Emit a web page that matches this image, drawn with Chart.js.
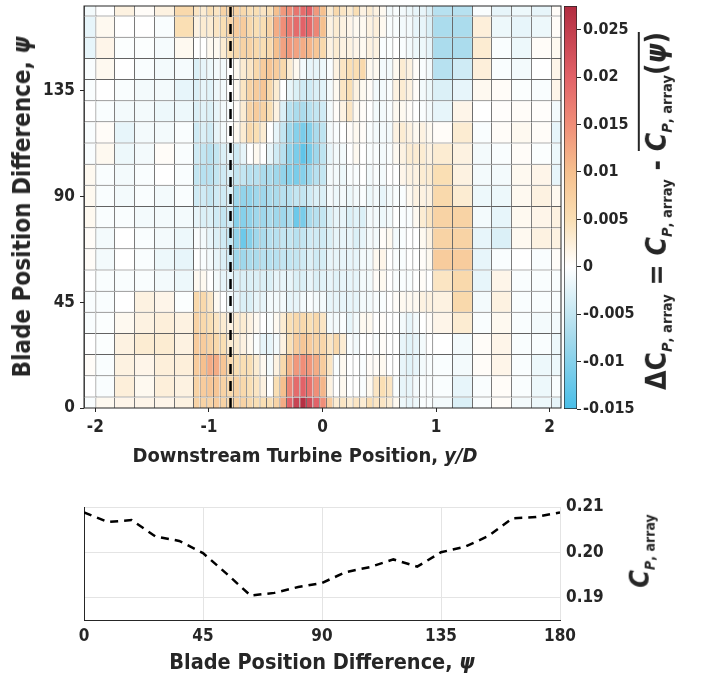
<!DOCTYPE html>
<html>
<head>
<meta charset="utf-8">
<script src="https://cdn.jsdelivr.net/npm/chart.js@4.4.1/dist/chart.umd.min.js"></script>
<style>
  body { margin: 0; background: #fff; }
  #wrap { position: relative; width: 703px; height: 680px; overflow: hidden;
          font-family: 'DejaVu Sans Condensed', 'DejaVu Sans', sans-serif; font-weight: bold; color: #262626; }
  canvas { position: absolute; left: 0; top: 0; }
  .lbl { position: absolute; white-space: nowrap; transform: translate(-50%, -50%); line-height: 1; }
  .rot { transform: translate(-50%, -50%) rotate(-90deg); }
  sub { font-size: 0.52em; vertical-align: -0.4em; font-style: normal; }
  .ovl { display: inline-block; border-top: 2.5px solid #262626; padding-top: 3px; }
</style>
</head>
<body>
<div id="wrap">
  <canvas id="heat" width="703" height="680"></canvas>
  <canvas id="cbar" width="703" height="680"></canvas>
  <canvas id="mean" width="703" height="680"></canvas>

  <div class="lbl rot" style="left:22px; top:207px; font-size:24px;">Blade Position Difference, <i>ψ</i></div>
  <div class="lbl" style="left:305px; top:455px; font-size:20px;">Downstream Turbine Position, <i>y/D</i></div>
  <div class="lbl rot" style="left:656px; top:211px; font-size:28px;">ΔC<sub><i>P</i>, array</sub> = <i>C</i><sub><i>P</i>, array</sub> - <span class="ovl"><i>C</i><sub><i>P</i>, array</sub>(<i>ψ</i>)</span></div>
  <div class="lbl" style="left:322px; top:662px; font-size:21.5px;">Blade Position Difference, <i>ψ</i></div>
  <div class="lbl rot" style="left:641px; top:551px; font-size:27px;"><i>C</i><sub><i>P</i>, array</sub></div>
</div>

<script>
// blade position difference of each heat-map row (deg)
const psi = [0, 9, 18, 27, 36, 45, 54, 63, 72, 81, 90, 99, 108, 117, 126, 135, 144, 153, 162, 171];

// column edges of the heat map, downstream turbine position y/D
const xEdges = [
  -2.1, -2.0, -1.835, -1.659, -1.483, -1.307, -1.14,
  -1.082, -1.023, -0.965, -0.906, -0.848, -0.789, -0.731, -0.672, -0.614, -0.555,
  -0.497, -0.438, -0.380, -0.321, -0.263, -0.204, -0.146, -0.087, -0.029, 0.030,
  0.089, 0.147, 0.206, 0.264, 0.323, 0.381, 0.440, 0.498, 0.557, 0.615,
  0.674, 0.732, 0.791, 0.849, 0.908, 0.966,
  1.140, 1.316, 1.483, 1.659, 1.835, 2.011, 2.1
];

// delta C_P,array (x 1e-3), one row per psi, one value per column
const dCp = [
  [-0.5,1,1.5,1.5,1.5,2, 7,7,7,8,7,6,7,7,6,5,5,5,7,12,20,24,27,23,20,15, 8,3,4,3,4,3,5,4,4,3,1,-1.5,-2,-1.5,-0.5,-0.5, -1,-3,-0.5,0.5,-1,-1.5,-2],
  [0,-0.5,2.5,1,2.5,2, 7,8,9,9,7,6,7,6,5,4,2,0,5,10,16,19,20,18,15,11, 2,0,1,0,0,-0.5,1,4,5,4,-0.5,-2,-2,-1,-0.5,-0.5, -0.5,-2,-0.5,0.5,-0.5,-1.5,-0.5],
  [0.5,-0.5,2,1.5,2.5,2.5, 8,10,12,12,9,6,5,5,5,3,1,-1,2,6,11,14,15,14,12,8, 4,-0.5,1,0,0,-0.5,0.5,0.5,1,0,0,-2,-2.5,-2,-1,-0.5, -0.5,-1,0.5,1.5,-0.5,-1.5,-1.5],
  [0,-0.3,2,3,3,2, 8,8,7,6,5,3,3,2,1,-0.5,-2,-2,-1,2,5,8,9,8,7,6.5, 4,6,3,-0.5,-1,0,0,-0.5,0.5,0,0,-2,-2.5,-2,-1,0, 0,-1,0.5,1.5,-0.5,-0.5,-1.5],
  [-0.5,-0.3,1,2,2.5,2, 7,6,5,4,3,2,3,3,2,1,0,-0.5,1,3,5,6,6,5,6,4, -1,-1,-0.5,-2,-1,1,1,0,0.5,0,0,-1,-2,-1,0,0.5, 1.5,3,-0.5,1,-0.5,-1,-1],
  [-0.5,-0.5,0,2,1.5,-0.3, 6,6,4,1,0,-1,-2,-3,-3,-2,-2,-1,-1,-1,-2,-2,-1,-0.5,-1,-1, -2,-2,-2,-2,-2,-1,-1,-0.5,-0.5,0,0.5,1,1,1,2,2, 2,6,-1,2,-0.5,-0.5,-0.5],
  [0,-0.5,-0.5,-0.5,-1,-1.5, 1,1,0,-1,-2,-2,-3,-3,-3,-3,-3,-3,-2,-2,-2,-3,-3,-2,-3,-2.5, -2,-2.5,-2,-2,-2,-1,-1,0.5,1,0,-0.5,-0.5,-0.5,0,0.5,0, 4,6,-2,1.5,-0.5,-0.5,-0.5],
  [0.5,-1,0,-0.5,-1.5,-2, 0,-0.5,-1,-2,-3,-4,-8,-8,-7,-7,-6,-6,-6,-5,-5,-5,-4,-3,-4,-3.5, -2,-2,-2,-2,-2,-1,-1,1,1.5,0,-0.5,-0.5,0,0,0.5,1, 8,8,-2,-0.5,0,-0.5,0.5],
  [0.5,-1,0,-0.5,-1,-1.5, -0.5,-1,-2,-3,-4,-5,-9,-12,-10,-8,-7,-6,-6,-5,-5,-6,-5,-4,-4,-4, -3,-2,-2,-2,-3,-2,-1,-1,0.5,1,-1,-0.5,0,0,1,2, 7,7,-2,-3,1,2,2],
  [1,-0.5,-0.5,-1,-1,-1, -2,-3,-3,-4,-5,-4,-10,-10,-9,-8,-8,-7,-8,-8,-7,-12,-11,-7,-6,-5, -3,-2,-2,-3,-2.5,-3,-1,-1,-1.5,-1,0,-0.5,-0.5,1,3,4, 7,7,-1,-2,1,1.5,2],
  [1,-0.5,-1,-0.5,-1,-0.5, -4,-4,-5,-4,-4,-3,-8,-9,-9,-8,-8,-7,-7,-6,-6,-5,-5,-4,-3,-3, -1,-1.5,-1,-1.5,-1,-0.5,-1.5,-1,-2,-1,-0.5,-0.5,1,2,2,2, 6,3,-1.5,-1.5,1,2,1],
  [1,-0.5,-1,-0.5,0,-0.5, -5,-6,-6,-5,-4,-3,-5,-5,-6,-6,-7,-7,-8,-9,-10,-11,-10,-8,-6,-5, -1,-1,-1.5,-0.5,-0.5,0,-1,-0.5,-1,0,0,1.5,2,2,3,3, 5,2,-1,-1,1,1.5,-2],
  [-0.5,1,-1.5,-1,0.5,-0.5, -4,-5,-6,-5,-3,-2,-4,-2,0,1,0,-2,-4,-6,-9,-11,-13,-11,-8,-5.5, -2,-1,-1,0,1,0,-0.5,-0.5,-1,-0.5,1,2,3,3,3,2, 3,2,-1,-0.5,0.5,-0.3,-1.5],
  [-0.5,0.5,-2,-1,-1,-0.5, -4,-3,-4,-2,-1,0,1,3,6,5,3,0,-2,-5,-8,-10,-11,-10,-7,-5.5, -1,-0.5,0,0.5,1,0.5,-0.5,-1,-1,-1,2,3,2,1,2,1, 0.5,3,-0.5,0.5,1,0.5,-2],
  [0,-0.5,-1,-1,-1.5,-1.5, -3,-2.5,-3,-2,-1,-0.5,0.5,3,7,8,7,5,2,-3,-6,-7,-7,-6,-5,-4, -1,0.5,2,4,1,0.5,0,-1,-1,-0.5,1,1,0.5,0,-0.5,-1, -2,1.5,0,0.3,0.5,0.3,-1],
  [-0.5,0,-0.5,-1,-1,-2, -3,-2,-2.5,-1.5,-1,0,1,4,7,8,9,6,3,0,-2,-3,-4,-4,-3,-2.5, -1,1,4,5,2,1,0.5,-1,-1,-0.5,2,3,2,0.5,-1,-1.5, -3,-2,1,0.5,-0.3,-0.5,1.5],
  [-0.5,1,0,-0.5,-1,-0.8, -3,-2,-1.5,-1,-1,0,1,3,4,6,8,9,8,6,3,1,-1,-2,-2,-1.5, -0.5,2,4,5,5,6,1,1,-1,-1,1,3,2,0.5,-0.5,-1, -6,-4,2.5,-0.5,-1,0,1.5],
  [-2,1.5,-0.3,-0.3,-0.8,1, 0,0,1,1,3,5,6,7,7,6,5,6,10,13,14,13,12,11,9,6, 2,3,2,2,1.5,1,2,2,-0.5,-0.3,0,-0.5,-1,-1.5,-1.5,-2, -7,-7,3,-0.5,-1.5,0.5,1],
  [-2,1,0,0,-0.5,5, 2,3,3,4,5,7,8,8,6,5,5,7,12,15,17,19,20,19,16,10, 2,3,2,1.5,1,1,2,2.5,1,-0.5,-0.5,-1,-1,-2,-2,-3, -7,-7,2.5,-1.5,-2,-1.5,0.5],
  [-1,0,2,0.5,2,6, 4,3,5,4,7,7,7,6,5,5,4,5,10,14,15,18,19,20,14,10, 3,6,4,3,5,2,3,2,1,-1,-0.5,-1,-1.5,-2,-2,-3, -6,-6,-0.5,-2,-1.5,-2,0.5]
];

// upstream turbine position (dashed line), y/D
const wakeY = -0.81;

// colour bar limits
const cbMin = -0.015;
const cbMax = 0.0275;

// array-averaged power coefficient vs blade position difference
const psiMean = [0, 9, 18, 27, 36, 45, 54, 63, 72, 81, 90, 99, 108, 117, 126, 135, 144, 153, 162, 171, 180];
const cpMean = [0.2088, 0.2067, 0.2071, 0.2035, 0.2025, 0.1998, 0.1952, 0.1904, 0.1910, 0.1923, 0.1932,
                0.1956, 0.1967, 0.1984, 0.1968, 0.2000, 0.2012, 0.2036, 0.2075, 0.2078, 0.2088];

// diverging colour map (value, rgb)
const cmapStops = [
  [-0.015, [72, 190, 232]],
  [-0.0075, [165, 218, 236]],
  [0, [255, 255, 255]],
  [0.005, [250, 223, 180]],
  [0.01, [246, 192, 142]],
  [0.015, [240, 142, 120]],
  [0.02, [226, 98, 104]],
  [0.0275, [178, 44, 64]]
];

function cmap(v) {
  const s = cmapStops;
  if (v <= s[0][0]) return `rgb(${s[0][1]})`;
  for (let i = 1; i < s.length; i++) {
    if (v <= s[i][0]) {
      const t = (v - s[i - 1][0]) / (s[i][0] - s[i - 1][0]);
      const c = s[i - 1][1].map((a, k) => Math.round(a + (s[i][1][k] - a) * t));
      return `rgb(${c})`;
    }
  }
  return `rgb(${s[s.length - 1][1]})`;
}

Chart.defaults.font.family = "'DejaVu Sans Condensed', 'DejaVu Sans', sans-serif";
Chart.defaults.color = '#262626';
const tickFont = { size: 17, weight: 'bold' };

// fixed axis sizes, no extra label padding so plot areas line up
const fixW = w => s => { s.width = w; s.paddingTop = 0; s.paddingBottom = 0; };
const fixH = h => s => { s.height = h; s.paddingLeft = 0; s.paddingRight = 0; };

const frame = {
  id: 'frame',
  afterDatasetsDraw(chart) {
    const { ctx, chartArea: a } = chart;
    ctx.save();
    ctx.strokeStyle = '#262626';
    ctx.lineWidth = 1;
    ctx.strokeRect(a.left, a.top, a.right - a.left, a.bottom - a.top);
    ctx.restore();
  }
};

const cellSets = xEdges.slice(0, -1).map((x0, c) => ({
  type: 'bar',
  data: psi.map(p => ({ x: [x0, xEdges[c + 1]], y: p })),
  backgroundColor: psi.map((p, r) => cmap(dCp[r][c] / 1000)),
  borderColor: 'rgba(38,38,38,0.72)',
  borderWidth: { left: 1, bottom: 1, top: 0, right: 0 },
  borderSkipped: false,
  inflateAmount: 0,
  barPercentage: 1,
  categoryPercentage: 1,
  grouped: false,
  clip: 0
}));

new Chart(document.getElementById('heat'), {
  type: 'bar',
  data: {
    datasets: [
      {
        type: 'line',
        data: [{ x: wakeY, y: 0 }, { x: wakeY, y: 171 }],
        borderColor: '#000',
        borderWidth: 2.5,
        borderDash: [10, 7],
        pointRadius: 0,
        order: -1
      },
      ...cellSets
    ]
  },
  options: {
    indexAxis: 'y',
    responsive: false,
    animation: false,
    layout: { padding: { left: 44, top: 6, right: 142, bottom: 230 } },
    plugins: { legend: { display: false }, tooltip: { enabled: false } },
    scales: {
      x: {
        type: 'linear', min: -2.1, max: 2.1,
        ticks: { stepSize: 1, includeBounds: false, font: tickFont, padding: 5 },
        grid: { drawOnChartArea: false, tickLength: 4, tickColor: '#262626' },
        border: { display: false },
        afterFit: fixH(42)
      },
      y: {
        type: 'linear', min: 0, max: 171, offset: false,
        ticks: { stepSize: 45, includeBounds: false, font: tickFont, padding: 5 },
        grid: { offset: false, drawOnChartArea: false, tickLength: 4, tickColor: '#262626' },
        border: { display: false },
        afterFit: fixW(40)
      }
    }
  },
  plugins: [frame]
});

new Chart(document.getElementById('cbar'), {
  type: 'bar',
  data: {
    labels: [''],
    datasets: [{
      data: [[cbMin, cbMax]],
      backgroundColor(c) {
        const chart = c.chart;
        if (!chart.chartArea) return null;
        const y = chart.scales.y;
        const g = chart.ctx.createLinearGradient(0, y.getPixelForValue(cbMin), 0, y.getPixelForValue(cbMax));
        cmapStops.forEach(([v, col]) => g.addColorStop((v - cbMin) / (cbMax - cbMin), `rgb(${col})`));
        return g;
      },
      borderColor: '#262626',
      borderWidth: 1,
      borderSkipped: false,
      barPercentage: 1,
      categoryPercentage: 1
    }]
  },
  options: {
    responsive: false,
    animation: false,
    layout: { padding: { left: 564, top: 6, right: 66, bottom: 271 } },
    plugins: { legend: { display: false }, tooltip: { enabled: false } },
    scales: {
      x: { display: false },
      y: {
        position: 'right', min: cbMin, max: cbMax,
        ticks: { stepSize: 0.005, includeBounds: false, font: { size: 16, weight: 'bold' }, padding: 2,
                 callback: v => String(+v.toFixed(3)) },
        grid: { drawOnChartArea: false, tickLength: 4, tickColor: '#262626' },
        border: { display: false },
        afterFit: fixW(60)
      }
    }
  }
});

new Chart(document.getElementById('mean'), {
  type: 'line',
  data: {
    datasets: [{
      data: psiMean.map((p, i) => ({ x: p, y: cpMean[i] })),
      borderColor: '#000',
      borderWidth: 2.5,
      borderDash: [8, 6],
      pointRadius: 0,
      tension: 0,
      fill: false
    }]
  },
  options: {
    responsive: false,
    animation: false,
    layout: { padding: { left: 84, top: 507, right: 83, bottom: 30 } },
    plugins: { legend: { display: false }, tooltip: { enabled: false } },
    scales: {
      x: {
        type: 'linear', min: 0, max: 180,
        ticks: { stepSize: 45, font: tickFont, padding: 6 },
        grid: { color: '#e4e4e4', drawTicks: false },
        border: { color: '#262626' },
        afterFit: fixH(30)
      },
      y: {
        position: 'right', min: 0.185, max: 0.21,
        ticks: { stepSize: 0.01, includeBounds: false, font: tickFont, padding: 6,
                 callback: v => v.toFixed(2) },
        grid: { color: '#e4e4e4', drawTicks: false },
        border: { display: false },
        afterFit: fixW(60)
      },
      yl: {
        position: 'left', min: 0.185, max: 0.21,
        ticks: { display: false },
        grid: { display: false },
        border: { color: '#262626' },
        afterFit: fixW(0)
      }
    }
  }
});
</script>
</body>
</html>
